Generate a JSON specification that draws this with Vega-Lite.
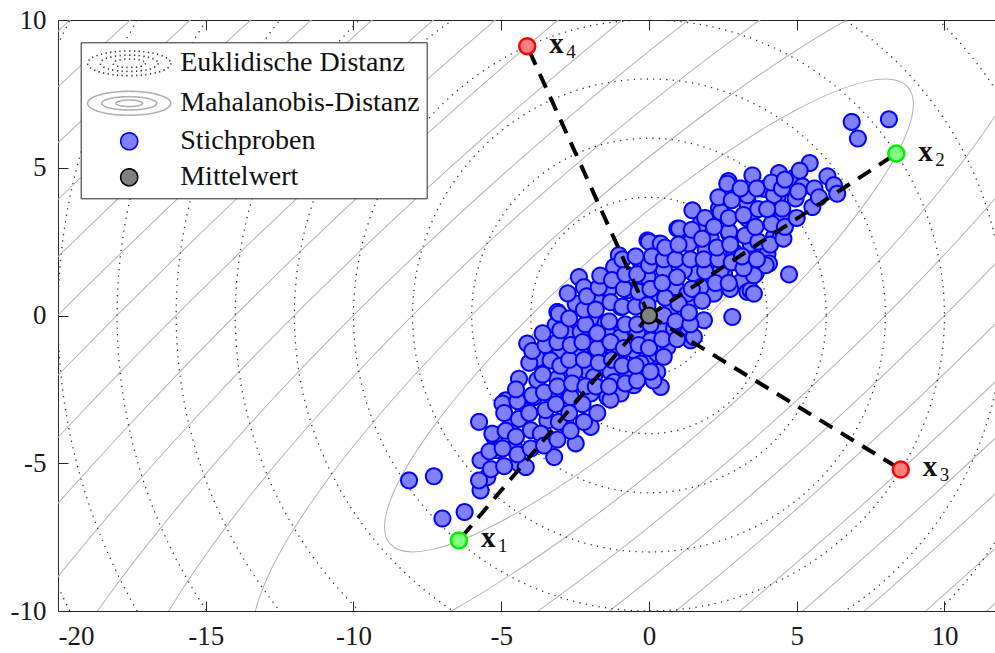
{
  "$schema": "https://vega.github.io/schema/vega-lite/v6.json",
  "autosize": {"type": "none"},
  "padding": {"left": 58, "top": 20, "right": 0, "bottom": 42},
  "width": 937,
  "height": 591,
  "background": "white",
  "view": {"stroke": "#262626", "strokeWidth": 1},
  "config": {
    "axis": {"labelFont": "Liberation Serif", "labelFontSize": 27, "labelColor": "#1a1a1a", "tickColor": "#262626", "tickSize": -10, "tickWidth": 1, "ticks": true, "domain": false, "grid": false, "title": null, "labelPadding": 22},
    "legend": {"orient": "none", "legendX": 22.7, "legendY": 22.3, "fillColor": "white", "strokeColor": "#262626", "padding": 7, "cornerRadius": 0, "labelFont": "Liberation Serif", "labelFontSize": 28, "labelColor": "#111111", "labelLimit": 600, "symbolSize": 289, "symbolOffset": 27.5, "labelOffset": 37, "rowPadding": 8, "symbolStrokeWidth": 1.6, "symbolOpacity": 1}
  },
  "datasets": {
    "ell": [{"cx":0,"cy":0,"d":2},{"cx":0,"cy":0,"d":4},{"cx":0,"cy":0,"d":6},{"cx":0,"cy":0,"d":8},{"cx":0,"cy":0,"d":10},{"cx":0,"cy":0,"d":12},{"cx":0,"cy":0,"d":14},{"cx":0,"cy":0,"d":16},{"cx":0,"cy":0,"d":18},{"cx":0,"cy":0,"d":20},{"cx":0,"cy":0,"d":22},{"cx":0,"cy":0,"d":24},{"cx":0,"cy":0,"d":26},{"cx":0,"cy":0,"d":28},{"cx":0,"cy":0,"d":30},{"cx":0,"cy":0,"d":32}],
    "circ": [{"cx":0,"cy":0,"r":2},{"cx":0,"cy":0,"r":4},{"cx":0,"cy":0,"r":6},{"cx":0,"cy":0,"r":8},{"cx":0,"cy":0,"r":10},{"cx":0,"cy":0,"r":12},{"cx":0,"cy":0,"r":14},{"cx":0,"cy":0,"r":16},{"cx":0,"cy":0,"r":18},{"cx":0,"cy":0,"r":20},{"cx":0,"cy":0,"r":22},{"cx":0,"cy":0,"r":24}],
    "samples": [
      {"x":6.86,"y":6.55},{"x":8.12,"y":6.64},{"x":7.07,"y":5.99},{"x":5.44,"y":5.16},{"x":2.69,"y":4.55},{"x":3.5,"y":4.74},{"x":4.4,"y":4.82},{"x":4.93,"y":4.67},{"x":6.04,"y":4.71},{"x":6.26,"y":4.41},{"x":6.37,"y":4.12},{"x":5.53,"y":3.67},{"x":4.74,"y":1.39},{"x":5.19,"y":4.37},{"x":4.96,"y":3.96},{"x":4.35,"y":4.03},{"x":4.01,"y":4.29},{"x":1.47,"y":3.56},{"x":2.43,"y":3.62},{"x":3.33,"y":3.28},{"x":3.38,"y":3.76},{"x":3.1,"y":4.01},{"x":4.51,"y":3.45},{"x":0.96,"y":2.94},{"x":1.64,"y":2.94},{"x":2.71,"y":2.77},{"x":2.09,"y":2.6},{"x":4.23,"y":2.66},{"x":0.34,"y":2.43},{"x":1.35,"y":2.43},{"x":3.44,"y":2.43},{"x":4.01,"y":2.09},{"x":4.06,"y":1.76},{"x":-0.05,"y":2.54},{"x":0.51,"y":1.53},{"x":1.52,"y":1.42},{"x":2.54,"y":1.42},{"x":3.61,"y":1.42},{"x":-0.05,"y":1.3},{"x":0.9,"y":0.96},{"x":1.98,"y":1.08},{"x":3.1,"y":1.13},{"x":3.33,"y":0.8},{"x":2.2,"y":0.74},{"x":0.17,"y":0.74},
      {"x":2.65,"y":4.46},{"x":2.37,"y":3.62},{"x":3.33,"y":3.79},{"x":1.02,"y":2.94},{"x":1.75,"y":3.11},{"x":2.71,"y":2.83},{"x":3.44,"y":3.33},{"x":0.0,"y":2.49},{"x":0.4,"y":2.43},{"x":1.92,"y":2.21},{"x":2.88,"y":2.15},{"x":-1.02,"y":2.04},{"x":-1.18,"y":1.64},{"x":-0.28,"y":1.81},{"x":1.18,"y":1.53},{"x":2.43,"y":1.53},{"x":3.44,"y":0.85},{"x":-2.37,"y":1.3},{"x":-2.2,"y":0.96},{"x":-1.35,"y":0.91},{"x":-0.73,"y":0.85},{"x":1.75,"y":0.96},{"x":-2.48,"y":0.4},{"x":-1.8,"y":0.57},{"x":-3.1,"y":0.12},{"x":-0.96,"y":0.29},{"x":0.73,"y":0.23},{"x":1.52,"y":0.51},{"x":2.82,"y":-0.05},{"x":-3.16,"y":-0.33},{"x":-2.65,"y":-0.56},{"x":-1.92,"y":-0.05},{"x":-1.47,"y":-0.27},{"x":-4.12,"y":-0.95},{"x":-3.78,"y":-1.46},{"x":-3.21,"y":-1.29},{"x":-2.48,"y":-0.95},{"x":-1.86,"y":-0.95},{"x":-1.07,"y":-0.67},{"x":-0.56,"y":-0.84},{"x":-0.05,"y":-0.67},{"x":0.4,"y":-0.39},{"x":0.85,"y":-0.44},{"x":1.3,"y":-0.61},{"x":1.41,"y":-0.84},{"x":-2.88,"y":-1.69},{"x":-2.14,"y":-1.85},{"x":-1.47,"y":-1.52},{"x":-0.96,"y":-1.24},{"x":-0.39,"y":-1.52},{"x":0.17,"y":-1.4},{"x":0.62,"y":-1.07},{"x":-1.3,"y":-1.91},{"x":0.28,"y":-1.91},
      {"x":-3.05,"y":0.06},{"x":-2.76,"y":-0.61},{"x":-2.31,"y":-0.56},{"x":-1.41,"y":-0.61},{"x":-0.96,"y":-0.73},{"x":-0.39,"y":-0.61},{"x":0.06,"y":-0.84},{"x":-2.99,"y":-1.19},{"x":-2.31,"y":-1.29},{"x":-1.75,"y":-1.12},{"x":-1.18,"y":-1.29},{"x":-0.51,"y":-1.18},{"x":-0.05,"y":-1.4},{"x":-3.33,"y":-1.52},{"x":-4.4,"y":-2.14},{"x":-3.78,"y":-2.19},{"x":-3.1,"y":-2.14},{"x":-2.53,"y":-1.91},{"x":-1.86,"y":-2.08},{"x":-1.18,"y":-2.25},{"x":-0.73,"y":-2.08},{"x":-0.17,"y":-1.97},{"x":-4.85,"y":-2.87},{"x":-4.23,"y":-3.21},{"x":-3.89,"y":-2.76},{"x":-3.21,"y":-2.59},{"x":-2.65,"y":-2.76},{"x":-1.97,"y":-2.64},{"x":-1.41,"y":-2.76},{"x":-0.96,"y":-2.64},{"x":-0.51,"y":-2.36},{"x":-5.75,"y":-3.6},{"x":-5.24,"y":-4.11},{"x":-4.68,"y":-3.72},{"x":-4.0,"y":-3.88},{"x":-3.44,"y":-3.55},{"x":-2.82,"y":-3.66},{"x":-1.97,"y":-3.77},{"x":-2.48,"y":-4.33},{"x":-3.21,"y":-4.79},{"x":-3.66,"y":-4.0},{"x":-5.7,"y":-4.9},{"x":-5.47,"y":-5.47},{"x":-5.13,"y":-4.56},{"x":-5.7,"y":-5.92},{"x":-4.4,"y":-5.01},{"x":-4.17,"y":-5.13},{"x":-4.57,"y":-4.45},{"x":-5.75,"y":-5.58},{"x":-8.12,"y":-5.58},{"x":-7.28,"y":-5.44},{"x":-6.99,"y":-6.87},{"x":-6.24,"y":-6.65},
      {"x":3.89,"y":4.29},{"x":4.23,"y":4.07},{"x":3.33,"y":4.07},{"x":4.51,"y":3.62},
      {"x":1.86,"y":-0.16},{"x":0.4,"y":-2.42},{"x":0.15,"y":-2.2},{"x":-0.28,"y":-1.63},{"x":0.28,"y":-1.29},{"x":-4.96,"y":-2.98},{"x":3.55,"y":0.74},{"x":3.95,"y":1.7},{"x":3.55,"y":1.36},{"x":4.46,"y":2.66},{"x":2.43,"y":3.5},{"x":1.3,"y":0.74},{"x":1.52,"y":-0.73},
      {"x":-5.35,"y":-5.2},{"x":-5.4,"y":-4.6},{"x":-5.3,"y":-4.0},{"x":-4.9,"y":-5.1},{"x":-4.95,"y":-4.5},{"x":-4.85,"y":-3.9},{"x":-4.9,"y":-3.3},{"x":-4.45,"y":-4.7},{"x":-4.5,"y":-4.1},{"x":-4.4,"y":-3.5},{"x":-4.45,"y":-2.9},{"x":-4.5,"y":-2.5},{"x":-4.0,"y":-4.5},{"x":-4.05,"y":-3.3},{"x":-3.95,"y":-2.7},{"x":-4.05,"y":-1.6},{"x":-3.95,"y":-1.2},{"x":-3.55,"y":-4.4},{"x":-3.5,"y":-3.2},{"x":-3.55,"y":-2.6},{"x":-3.6,"y":-2.0},{"x":-3.5,"y":-1.0},{"x":-3.6,"y":-0.6},{"x":-3.1,"y":-4.2},{"x":-3.05,"y":-3.6},{"x":-3.15,"y":-3.0},{"x":-3.1,"y":-2.4},{"x":-3.0,"y":-1.7},{"x":-3.1,"y":-0.9},{"x":-3.0,"y":-0.5},{"x":-2.65,"y":-3.9},{"x":-2.7,"y":-3.3},{"x":-2.6,"y":-2.3},{"x":-2.7,"y":-1.5},{"x":-2.65,"y":-1.0},{"x":-2.7,"y":-0.1},{"x":-2.75,"y":0.75},{"x":-2.2,"y":-3.6},{"x":-2.25,"y":-3.0},{"x":-2.15,"y":-2.4},{"x":-2.2,"y":-1.5},{"x":-2.25,"y":-0.9},{"x":-2.15,"y":-0.3},{"x":-2.2,"y":0.2},{"x":-2.1,"y":0.65},{"x":-1.75,"y":-3.3},{"x":-1.8,"y":-2.4},{"x":-1.7,"y":-1.6},{"x":-1.75,"y":-0.6},{"x":-1.8,"y":0.2},{"x":-1.7,"y":0.95},{"x":-1.65,"y":1.35},{"x":-1.3,"y":-2.85},{"x":-1.35,"y":-2.4},{"x":-1.25,"y":-1.5},{"x":-1.3,"y":-0.9},{"x":-1.35,"y":-0.2},{"x":-1.3,"y":0.45},{"x":-1.25,"y":1.2},{"x":-0.8,"y":-2.3},{"x":-0.9,"y":-1.7},{"x":-0.85,"y":-1.1},{"x":-0.8,"y":-0.3},{"x":-0.9,"y":0.3},{"x":-0.85,"y":0.9},{"x":-0.8,"y":1.4},{"x":-0.9,"y":1.9},{"x":-0.4,"y":-2.2},{"x":-0.45,"y":-1.7},{"x":-0.35,"y":-1.0},{"x":-0.4,"y":-0.3},{"x":-0.45,"y":0.3},{"x":-0.35,"y":0.8},{"x":-0.4,"y":1.4},{"x":-0.45,"y":2.0},{"x":0.05,"y":-1.9},{"x":0.0,"y":-1.1},{"x":0.05,"y":-0.3},{"x":-0.05,"y":0.35},{"x":0.05,"y":0.9},{"x":0.0,"y":1.7},{"x":0.1,"y":2.0},{"x":0.5,"y":-1.4},{"x":0.45,"y":-0.8},{"x":0.5,"y":0.0},{"x":0.55,"y":0.6},{"x":0.45,"y":1.1},{"x":0.5,"y":1.9},{"x":0.55,"y":2.3},{"x":0.95,"y":-0.8},{"x":0.9,"y":-0.2},{"x":1.0,"y":0.4},{"x":0.95,"y":1.3},{"x":0.9,"y":1.9},{"x":1.0,"y":2.4},{"x":1.4,"y":-0.3},{"x":1.35,"y":0.1},{"x":1.45,"y":0.9},{"x":1.4,"y":1.9},{"x":1.45,"y":2.9},{"x":1.8,"y":0.5},{"x":1.9,"y":1.5},{"x":1.85,"y":1.9},{"x":1.8,"y":2.6},{"x":1.9,"y":3.3},{"x":2.25,"y":1.1},{"x":2.35,"y":1.9},{"x":2.3,"y":2.3},{"x":2.2,"y":3.0},{"x":2.35,"y":4.0},{"x":2.75,"y":0.9},{"x":2.7,"y":1.1},{"x":2.8,"y":1.8},{"x":2.75,"y":2.4},{"x":2.7,"y":3.3},{"x":2.8,"y":3.9},{"x":3.2,"y":1.6},{"x":3.15,"y":2.0},{"x":3.25,"y":2.7},{"x":3.2,"y":3.4},{"x":3.1,"y":4.3},{"x":3.65,"y":1.9},{"x":3.7,"y":2.5},{"x":3.6,"y":3.0},{"x":3.7,"y":3.6},{"x":3.65,"y":4.3},{"x":4.1,"y":2.4},{"x":4.15,"y":3.1},{"x":4.0,"y":3.6},{"x":4.15,"y":4.5},{"x":4.55,"y":2.6},{"x":4.6,"y":3.0},{"x":4.5,"y":4.3},{"x":4.6,"y":4.6},{"x":5.0,"y":3.3},{"x":5.05,"y":4.2},{"x":5.1,"y":4.9},{"x":5.6,"y":4.3},{"x":5.75,"y":4.0}
    ],
    "segs": [
      {"seg":"a","o":0,"x":0,"y":0},{"seg":"a","o":1,"x":-6.43,"y":-7.61},
      {"seg":"b","o":0,"x":0,"y":0},{"seg":"b","o":1,"x":8.37,"y":5.48},
      {"seg":"c","o":0,"x":0,"y":0},{"seg":"c","o":1,"x":8.52,"y":-5.21},
      {"seg":"d","o":0,"x":0,"y":0},{"seg":"d","o":1,"x":-4.12,"y":9.11}
    ],
    "mean": [{"x":0,"y":0}],
    "special": [
      {"name":"x1","sub":"1","cls":"g","x":-6.43,"y":-7.61},
      {"name":"x2","sub":"2","cls":"g","x":8.37,"y":5.48},
      {"name":"x3","sub":"3","cls":"r","x":8.52,"y":-5.21},
      {"name":"x4","sub":"4","cls":"r","x":-4.12,"y":9.11}
    ]
  },
  "layer": [
    {
      "data": {"name": "ell"},
      "mark": {"type": "point", "shape": "M1,0C1,0.12949,0.5523,0.23445,0,0.23445C-0.5523,0.23445,-1,0.12949,-1,0C-1,-0.12949,-0.5523,-0.23445,0,-0.23445C0.5523,-0.23445,1,-0.12949,1,0Z", "filled": false, "stroke": "#b3b3b3", "strokeWidth": 1, "opacity": 1, "angle": 318.57, "clip": true},
      "encoding": {
        "x": {"field": "cx", "type": "quantitative", "scale": {"domain": [-20, 11.71], "nice": false, "zero": false}, "axis": {"orient": "bottom", "values": [-20,-15,-10,-5,0,5,10], "labelFont": "Liberation Serif", "labelFontSize": 27, "tickSize": -10, "labelExpr": "replace(datum.label, '\u2212', '-')"}},
        "y": {"field": "cy", "type": "quantitative", "scale": {"domain": [-10, 10], "nice": false, "zero": false}, "axis": {"orient": "left", "values": [-10,-5,0,5,10], "labelFont": "Liberation Serif", "labelFontSize": 27, "tickSize": -10, "labelExpr": "replace(datum.label, '\u2212', '-')"}},
        "size": {"field": "d", "type": "quantitative", "scale": {"type": "pow", "exponent": 2, "domain": [0, 32], "range": [0, 30513152]}, "legend": null}
      }
    },
    {
      "data": {"name": "circ"},
      "mark": {"type": "point", "shape": "circle", "filled": false, "stroke": "#333333", "strokeWidth": 1.3, "strokeDash": [1.3, 5.2], "opacity": 1, "clip": true},
      "encoding": {
        "x": {"field": "cx", "type": "quantitative", "axis": {"orient": "top", "labels": false, "ticks": true, "tickSize": -10, "values": [-20,-15,-10,-5,0,5,10]}},
        "y": {"field": "cy", "type": "quantitative"},
        "size": {"field": "r", "type": "quantitative", "scale": {"type": "pow", "exponent": 2, "domain": [0, 24], "range": [0, 2011853]}, "legend": null}
      }
    },
    {
      "data": {"name": "samples"},
      "mark": {"type": "point", "filled": true, "strokeWidth": 2, "size": 256, "opacity": 1},
      "encoding": {
        "x": {"field": "x", "type": "quantitative", "axis": null},
        "y": {"field": "y", "type": "quantitative"},
        "fill": {
          "datum": "Stichproben", "type": "nominal",
          "scale": {"domain": ["Euklidische Distanz", "Mahalanobis-Distanz", "Stichproben", "Mittelwert"], "range": ["#ffffff", "#ffffff", "#7f7fff", "#808080"]},
          "legend": {"title": null, "orient": "none", "legendX": 22.7, "legendY": 22.3}
        },
        "stroke": {
          "datum": "Stichproben", "type": "nominal",
          "scale": {"domain": ["Euklidische Distanz", "Mahalanobis-Distanz", "Stichproben", "Mittelwert"], "range": ["#333333", "#b0b0b0", "#0000ff", "#000000"]},
          "legend": {"title": null, "orient": "none", "legendX": 22.7, "legendY": 22.3}
        },
        "shape": {
          "datum": "Stichproben", "type": "nominal",
          "scale": {"domain": ["Euklidische Distanz", "Mahalanobis-Distanz", "Stichproben", "Mittelwert"], "range": [
            "M4.9,0C4.9,0.801,2.706,1.45,0,1.45C-2.706,1.45,-4.9,0.801,-4.9,0C-4.9,-0.801,-2.706,-1.45,0,-1.45C2.706,-1.45,4.9,-0.801,4.9,0ZM3.4,0C3.4,0.53,1.878,0.96,0,0.96C-1.878,0.96,-3.4,0.53,-3.4,0C-3.4,-0.53,-1.878,-0.96,0,-0.96C1.878,-0.96,3.4,-0.53,3.4,0ZM1.9,0C1.9,0.276,1.049,0.5,0,0.5C-1.049,0.5,-1.9,0.276,-1.9,0C-1.9,-0.276,-1.049,-0.5,0,-0.5C1.049,-0.5,1.9,-0.276,1.9,0Z",
            "M4.9,0C4.9,0.779,2.706,1.41,0,1.41C-2.706,1.41,-4.9,0.779,-4.9,0C-4.9,-0.779,-2.706,-1.41,0,-1.41C2.706,-1.41,4.9,-0.779,4.9,0ZM3.24,0C3.24,0.431,1.789,0.78,0,0.78C-1.789,0.78,-3.24,0.431,-3.24,0C-3.24,-0.431,-1.789,-0.78,0,-0.78C1.789,-0.78,3.24,-0.431,3.24,0ZM1.57,0C1.57,0.215,0.867,0.39,0,0.39C-0.867,0.39,-1.57,0.215,-1.57,0C-1.57,-0.215,-0.867,-0.39,0,-0.39C0.867,-0.39,1.57,-0.215,1.57,0Z",
            "circle", "circle"]},
          "legend": {"title": null, "orient": "none", "legendX": 22.7, "legendY": 22.3}
        },
        "strokeDash": {
          "datum": "Stichproben", "type": "nominal",
          "scale": {"domain": ["Euklidische Distanz", "Mahalanobis-Distanz", "Stichproben", "Mittelwert"], "range": [[1.3, 3.4], [1, 0], [1, 0], [1, 0]]},
          "legend": {"title": null, "orient": "none", "legendX": 22.7, "legendY": 22.3}
        }
      }
    },
    {
      "data": {"name": "segs"},
      "mark": {"type": "line", "color": "#000000", "strokeWidth": 4, "strokeDash": [15, 10]},
      "encoding": {
        "x": {"field": "x", "type": "quantitative", "axis": null},
        "y": {"field": "y", "type": "quantitative"},
        "detail": {"field": "seg"},
        "order": {"field": "o"}
      }
    },
    {
      "data": {"name": "mean"},
      "mark": {"type": "point", "shape": "circle", "filled": true, "fill": "#808080", "stroke": "#000000", "strokeWidth": 2.2, "size": 256, "opacity": 1},
      "encoding": {
        "x": {"field": "x", "type": "quantitative", "axis": null},
        "y": {"field": "y", "type": "quantitative"}
      }
    },
    {
      "data": {"name": "special"},
      "transform": [{"filter": "datum.cls === 'g'"}],
      "mark": {"type": "point", "shape": "circle", "filled": true, "fill": "#80ff80", "stroke": "#00ee00", "strokeWidth": 2.5, "size": 256, "opacity": 1},
      "encoding": {
        "x": {"field": "x", "type": "quantitative", "axis": null},
        "y": {"field": "y", "type": "quantitative"}
      }
    },
    {
      "data": {"name": "special"},
      "transform": [{"filter": "datum.cls === 'r'"}],
      "mark": {"type": "point", "shape": "circle", "filled": true, "fill": "#ff8080", "stroke": "#ff0000", "strokeWidth": 2.5, "size": 256, "opacity": 1},
      "encoding": {
        "x": {"field": "x", "type": "quantitative", "axis": null},
        "y": {"field": "y", "type": "quantitative"}
      }
    },
    {
      "data": {"name": "special"},
      "mark": {"type": "text", "text": "x", "font": "Liberation Serif", "fontWeight": "bold", "fontSize": 29, "align": "left", "baseline": "alphabetic", "dx": 22, "dy": 7, "color": "#111111"},
      "encoding": {
        "x": {"field": "x", "type": "quantitative", "axis": null},
        "y": {"field": "y", "type": "quantitative"}
      }
    },
    {
      "data": {"name": "special"},
      "mark": {"type": "text", "font": "Liberation Serif", "fontSize": 19, "align": "left", "baseline": "alphabetic", "dx": 39, "dy": 12, "color": "#111111"},
      "encoding": {
        "x": {"field": "x", "type": "quantitative", "axis": null},
        "y": {"field": "y", "type": "quantitative"},
        "text": {"field": "sub"}
      }
    }
  ],
  "resolve": {"scale": {"size": "independent"}, "axis": {"x": "independent"}}
}
